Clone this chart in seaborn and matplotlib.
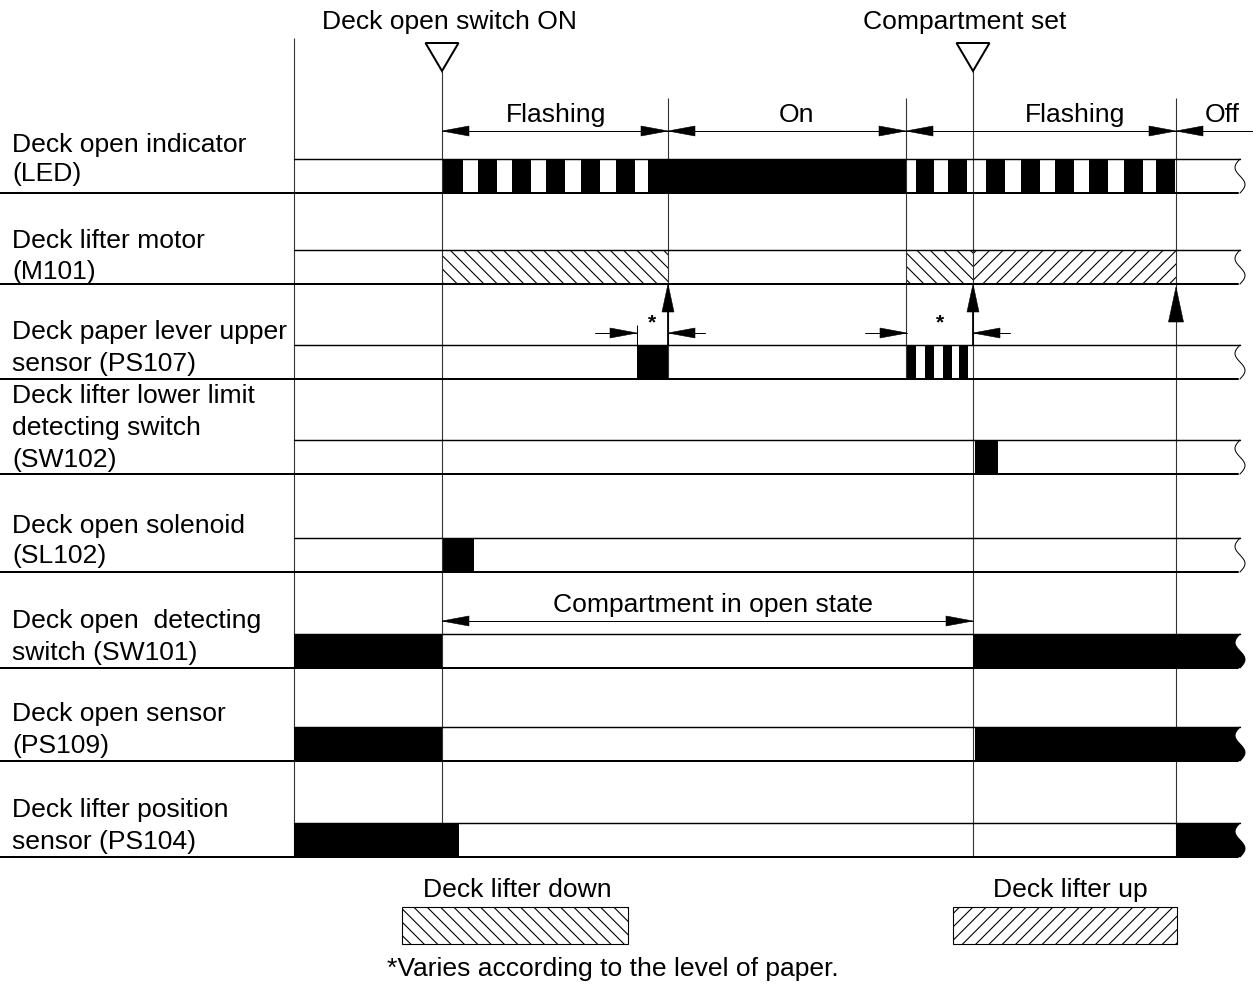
import numpy as np
import matplotlib.pyplot as plt
from matplotlib.patches import Rectangle, Polygon
import seaborn as sns

sns.set_theme(style="white")
plt.rcParams['font.family'] = ['Liberation Sans', 'DejaVu Sans']
plt.rcParams['text.color'] = 'black'
plt.rcParams['hatch.linewidth'] = 1.0
plt.rcParams['hatch.color'] = 'black'

# --- timing marks (drawing units, left -> right) ---
t_start = 294
t_open = 442        # deck open switch ON
t_led_on = 668      # LED steady on / PS107 detects
t_led_flash = 906   # LED flashing again
t_set = 973         # compartment set
t_off = 1176        # LED off / lifter stops
t_end = 1240        # break symbol

# --- rows ---
row_top = [159, 250, 345, 440, 538, 634, 727, 823]
row_h = 34
label_lines = [
    ["Deck open indicator", "(LED)"],
    ["Deck lifter motor", "(M101)"],
    ["Deck paper lever upper", "sensor (PS107)"],
    ["Deck lifter lower limit", "detecting switch", "(SW102)"],
    ["Deck open solenoid", "(SL102)"],
    ["Deck open  detecting", "switch (SW101)"],
    ["Deck open sensor", "(PS109)"],
    ["Deck lifter position", "sensor (PS104)"],
]
label_base = [
    [152, 181],
    [248, 279],
    [339, 371],
    [403, 435, 467],
    [533, 563],
    [628, 660],
    [721, 753],
    [817, 849],
]

# --- signal states: (start, end) of the "active" (black) parts ---
led_blocks_start = [443, 478, 512, 546, 581, 616, 648,
                    916, 948, 986, 1021, 1055, 1089, 1124, 1156]
led_blocks_end = [463, 497, 531, 565, 600, 635, 906,
                  934, 967, 1005, 1040, 1074, 1108, 1143, 1175]
ps107_start = [637, 907, 925, 943, 959]
ps107_end = [668, 916, 934, 952, 968]
sw102 = [(975, 998)]
sl102 = [(443, 474)]
sw101 = [(t_start, t_open), (t_set, t_end)]
ps109 = [(t_start, t_open), (975, t_end)]
ps104 = [(t_start, 459), (t_off, t_end)]

m101_down = [(t_open, t_led_on), (t_led_flash, t_set)]
m101_up = [(t_set, t_off)]

FS = 23.8
fig = plt.figure(figsize=(1253 / 80, 985 / 80), dpi=80)
ax = fig.add_axes([0, 0, 1, 1])
ax.set_xlim(0, 1253)
ax.set_ylim(985, 0)
ax.axis('off')


def wave(top):
    s = np.linspace(0, 1, 40)
    return t_end - 5 * np.sin(2 * np.pi * s), top + s * row_h


def black(i, segs):
    top = row_top[i]
    for x0, x1 in segs:
        if x1 >= t_end:
            wx, wy = wave(top)
            px = np.concatenate([[x0], wx, [x0]])
            py = np.concatenate([[top], wy, [top + row_h]])
            ax.add_patch(Polygon(np.column_stack([px, py]), closed=True,
                                 facecolor='black', edgecolor='none', zorder=3))
        else:
            ax.add_patch(Rectangle((x0, top), x1 - x0, row_h,
                                   facecolor='black', edgecolor='none', zorder=3))


def head(tx, ty, dx, dy, L=27, W=10):
    bx, by = tx - L * dx, ty - L * dy
    px, py = -dy, dx
    pts = [(tx, ty), (bx + W / 2 * px, by + W / 2 * py), (bx - W / 2 * px, by - W / 2 * py)]
    ax.add_patch(Polygon(pts, closed=True, facecolor='black', edgecolor='black',
                         lw=0.5, zorder=6))


def dim(x0, x1, y):
    ax.plot([x0, x1], [y, y], color='black', lw=0.9, zorder=5)
    head(x0, y, -1, 0)
    head(x1, y, 1, 0)


# row frames and break symbols
for i, top in enumerate(row_top):
    bot = top + row_h
    ax.plot([t_start, t_end], [top, top], color='black', lw=1.3, zorder=4)
    ax.plot([0, t_end - 2], [bot, bot], color='black', lw=1.8, zorder=4)
    wx, wy = wave(top)
    ax.plot(wx, wy, color='black', lw=0.9, zorder=4)

# row labels
for lines, bases in zip(label_lines, label_base):
    for txt, yb in zip(lines, bases):
        ax.text(12, yb, txt, fontsize=FS, ha='left', va='baseline')

# vertical timing lines
vc = '#333333'
ax.vlines(t_start, 38, 857, color=vc, lw=1.0, zorder=2)
ax.vlines([t_open, t_set], 71, 857, color=vc, lw=1.0, zorder=2)
ax.vlines(t_off, 98, 857, color=vc, lw=1.0, zorder=2)
ax.vlines([t_led_on, t_led_flash], 98, 378, color=vc, lw=1.0, zorder=2)

# event triangles and titles
for x in [t_open, t_set]:
    ax.add_patch(Polygon([(x - 16.5, 43), (x + 16.5, 43), (x, 71)], closed=True,
                         facecolor='white', edgecolor='black', lw=1.8, zorder=6))
ax.text(449, 29, "Deck open switch ON", fontsize=FS, ha='center', va='baseline')
ax.text(965, 29, "Compartment set", fontsize=FS, ha='center', va='baseline')

# LED
ax.broken_barh([(s, e - s) for s, e in zip(led_blocks_start, led_blocks_end)],
               (row_top[0], row_h), facecolors='black', edgecolors='none', zorder=3)
dim(t_open, t_led_on, 131)
dim(t_led_on, t_led_flash, 131)
dim(t_led_flash, t_off, 131)
ax.plot([t_off, 1253], [131, 131], color='black', lw=0.9)
head(t_off, 131, -1, 0)
ax.text(556, 122, "Flashing", fontsize=FS, ha='center', va='baseline')
ax.text(796, 122, "On", fontsize=FS, ha='center', va='baseline')
ax.text(1075, 122, "Flashing", fontsize=FS, ha='center', va='baseline')
ax.text(1222, 122, "Off", fontsize=FS, ha='center', va='baseline')

# M101 hatched drive periods
for x0, x1 in m101_down:
    ax.add_patch(Rectangle((x0, row_top[1]), x1 - x0, row_h, facecolor='white',
                           edgecolor='black', lw=0, hatch='\\\\', zorder=1.5))
for x0, x1 in m101_up:
    ax.add_patch(Rectangle((x0, row_top[1]), x1 - x0, row_h, facecolor='white',
                           edgecolor='black', lw=0, hatch='//', zorder=1.5))

# stop arrows from PS107 / SW101 to M101
m_bot = row_top[1] + row_h
for x in [t_led_on, t_set]:
    ax.plot([x, x], [row_top[2], m_bot + 20], color='black', lw=1.6, zorder=5)
    head(x, m_bot, 0, -1, L=28, W=12)
head(t_off, m_bot + 3, 0, -1, L=35, W=15)

# PS107
ax.broken_barh([(s, e - s) for s, e in zip(ps107_start, ps107_end)],
               (row_top[2], row_h), facecolors='black', edgecolors='none', zorder=3)
ax.vlines(ps107_start[0], 325, row_top[2], color='black', lw=0.9)
for xa, xb in [(ps107_start[0], t_led_on), (ps107_start[1], t_set)]:
    ax.plot([xa - 42, xa], [333, 333], color='black', lw=0.9)
    head(xa, 333, 1, 0)
    ax.plot([xb, xb + 37], [333, 333], color='black', lw=0.9)
    head(xb, 333, -1, 0)
    ax.text((xa + xb) / 2, 323, "*", fontsize=FS * 0.8, ha='center', va='center',
            fontweight='bold')

black(3, sw102)
black(4, sl102)
black(5, sw101)
black(6, ps109)
black(7, ps104)

dim(t_open, t_set, 621)
ax.text(713, 612, "Compartment in open state", fontsize=FS, ha='center', va='baseline')

# legend
ax.text(517, 897, "Deck lifter down", fontsize=FS, ha='center', va='baseline')
ax.add_patch(Rectangle((402, 907), 226, 37, facecolor='white', edgecolor='black',
                       lw=1.0, hatch='\\\\'))
ax.text(1070, 897, "Deck lifter up", fontsize=FS, ha='center', va='baseline')
ax.add_patch(Rectangle((953, 907), 224, 37, facecolor='white', edgecolor='black',
                       lw=1.0, hatch='//'))
ax.text(613, 976, "*Varies according to the level of paper.", fontsize=FS,
        ha='center', va='baseline')

fig.savefig('out.png', dpi=80)
